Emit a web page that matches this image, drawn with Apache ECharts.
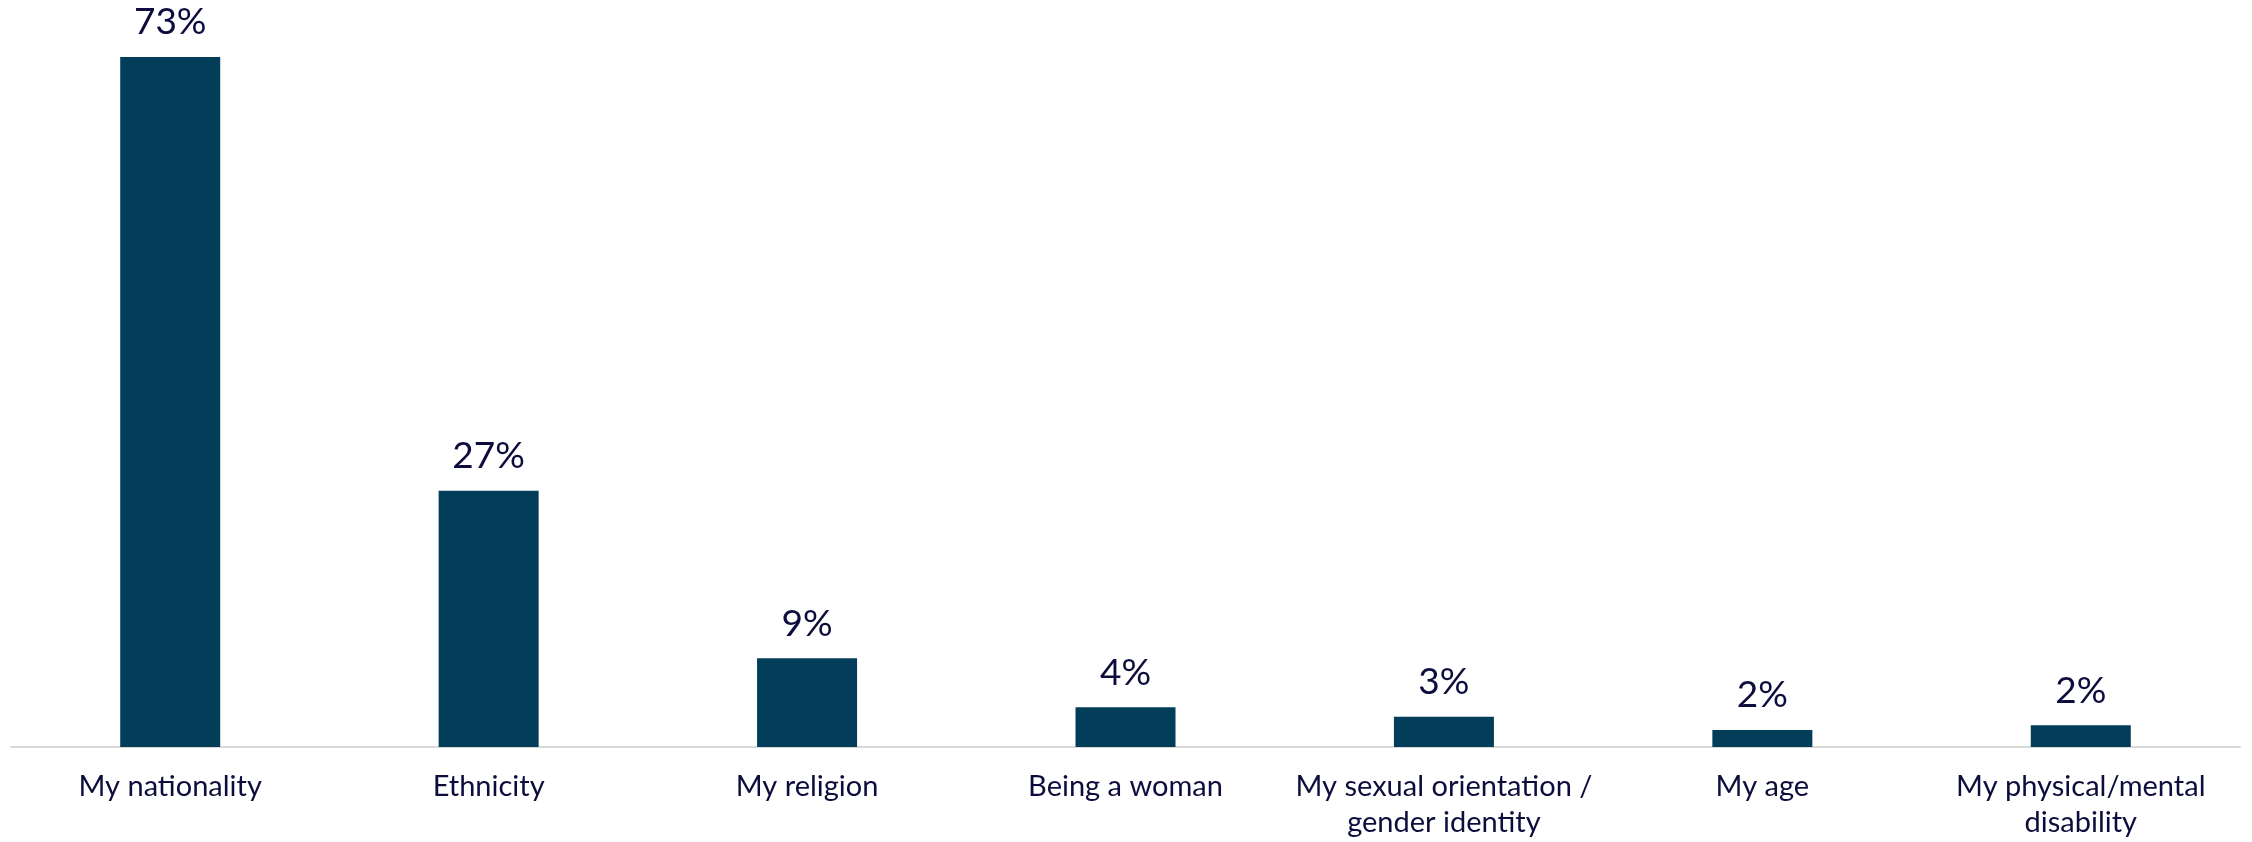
<!DOCTYPE html>
<html>
<head>
<meta charset="utf-8">
<script src="https://cdn.jsdelivr.net/npm/echarts@6/dist/echarts.min.js"></script>
<style>
  html, body { margin: 0; padding: 0; background: #fff; }
  #chart { width: 2252px; height: 842px; }
</style>
</head>
<body>
<div id="chart"></div>
<script>
var categories = [
  'My nationality',
  'Ethnicity',
  'My religion',
  'Being a woman',
  'My sexual orientation /\ngender identity',
  'My age',
  'My physical/mental\ndisability'
];
// share of respondents, in %
var shares = [73, 27.1, 9.4, 4.2, 3.2, 1.8, 2.3];

var myChart = echarts.init(document.getElementById('chart'));

var option = {
  animation: false,
  grid: {
    left: 11,
    right: 12,
    top: 57,
    bottom: 95,
    containLabel: false
  },
  xAxis: {
    type: 'category',
    data: categories,
    axisTick: { show: false },
    axisLine: {
      lineStyle: { color: '#d9d9d9', width: 2 }
    },
    axisLabel: {
      interval: 0,
      margin: 22,
      color: '#0d0d3d',
      fontFamily: 'Lato',
      fontSize: 29,
      lineHeight: 36
    }
  },
  yAxis: {
    type: 'value',
    min: 0,
    max: 73,
    show: false,
    splitLine: { show: false }
  },
  series: [{
    type: 'bar',
    data: shares,
    barWidth: 100,
    itemStyle: { color: '#023e5a' },
    label: {
      show: true,
      position: 'top',
      distance: 16,
      color: '#0d0d3d',
      fontFamily: 'Lato',
      fontSize: 37,
      formatter: function (p) {
        return Math.round(p.value) + '%';
      }
    }
  }]
};

myChart.setOption(option);
</script>
</body>
</html>
